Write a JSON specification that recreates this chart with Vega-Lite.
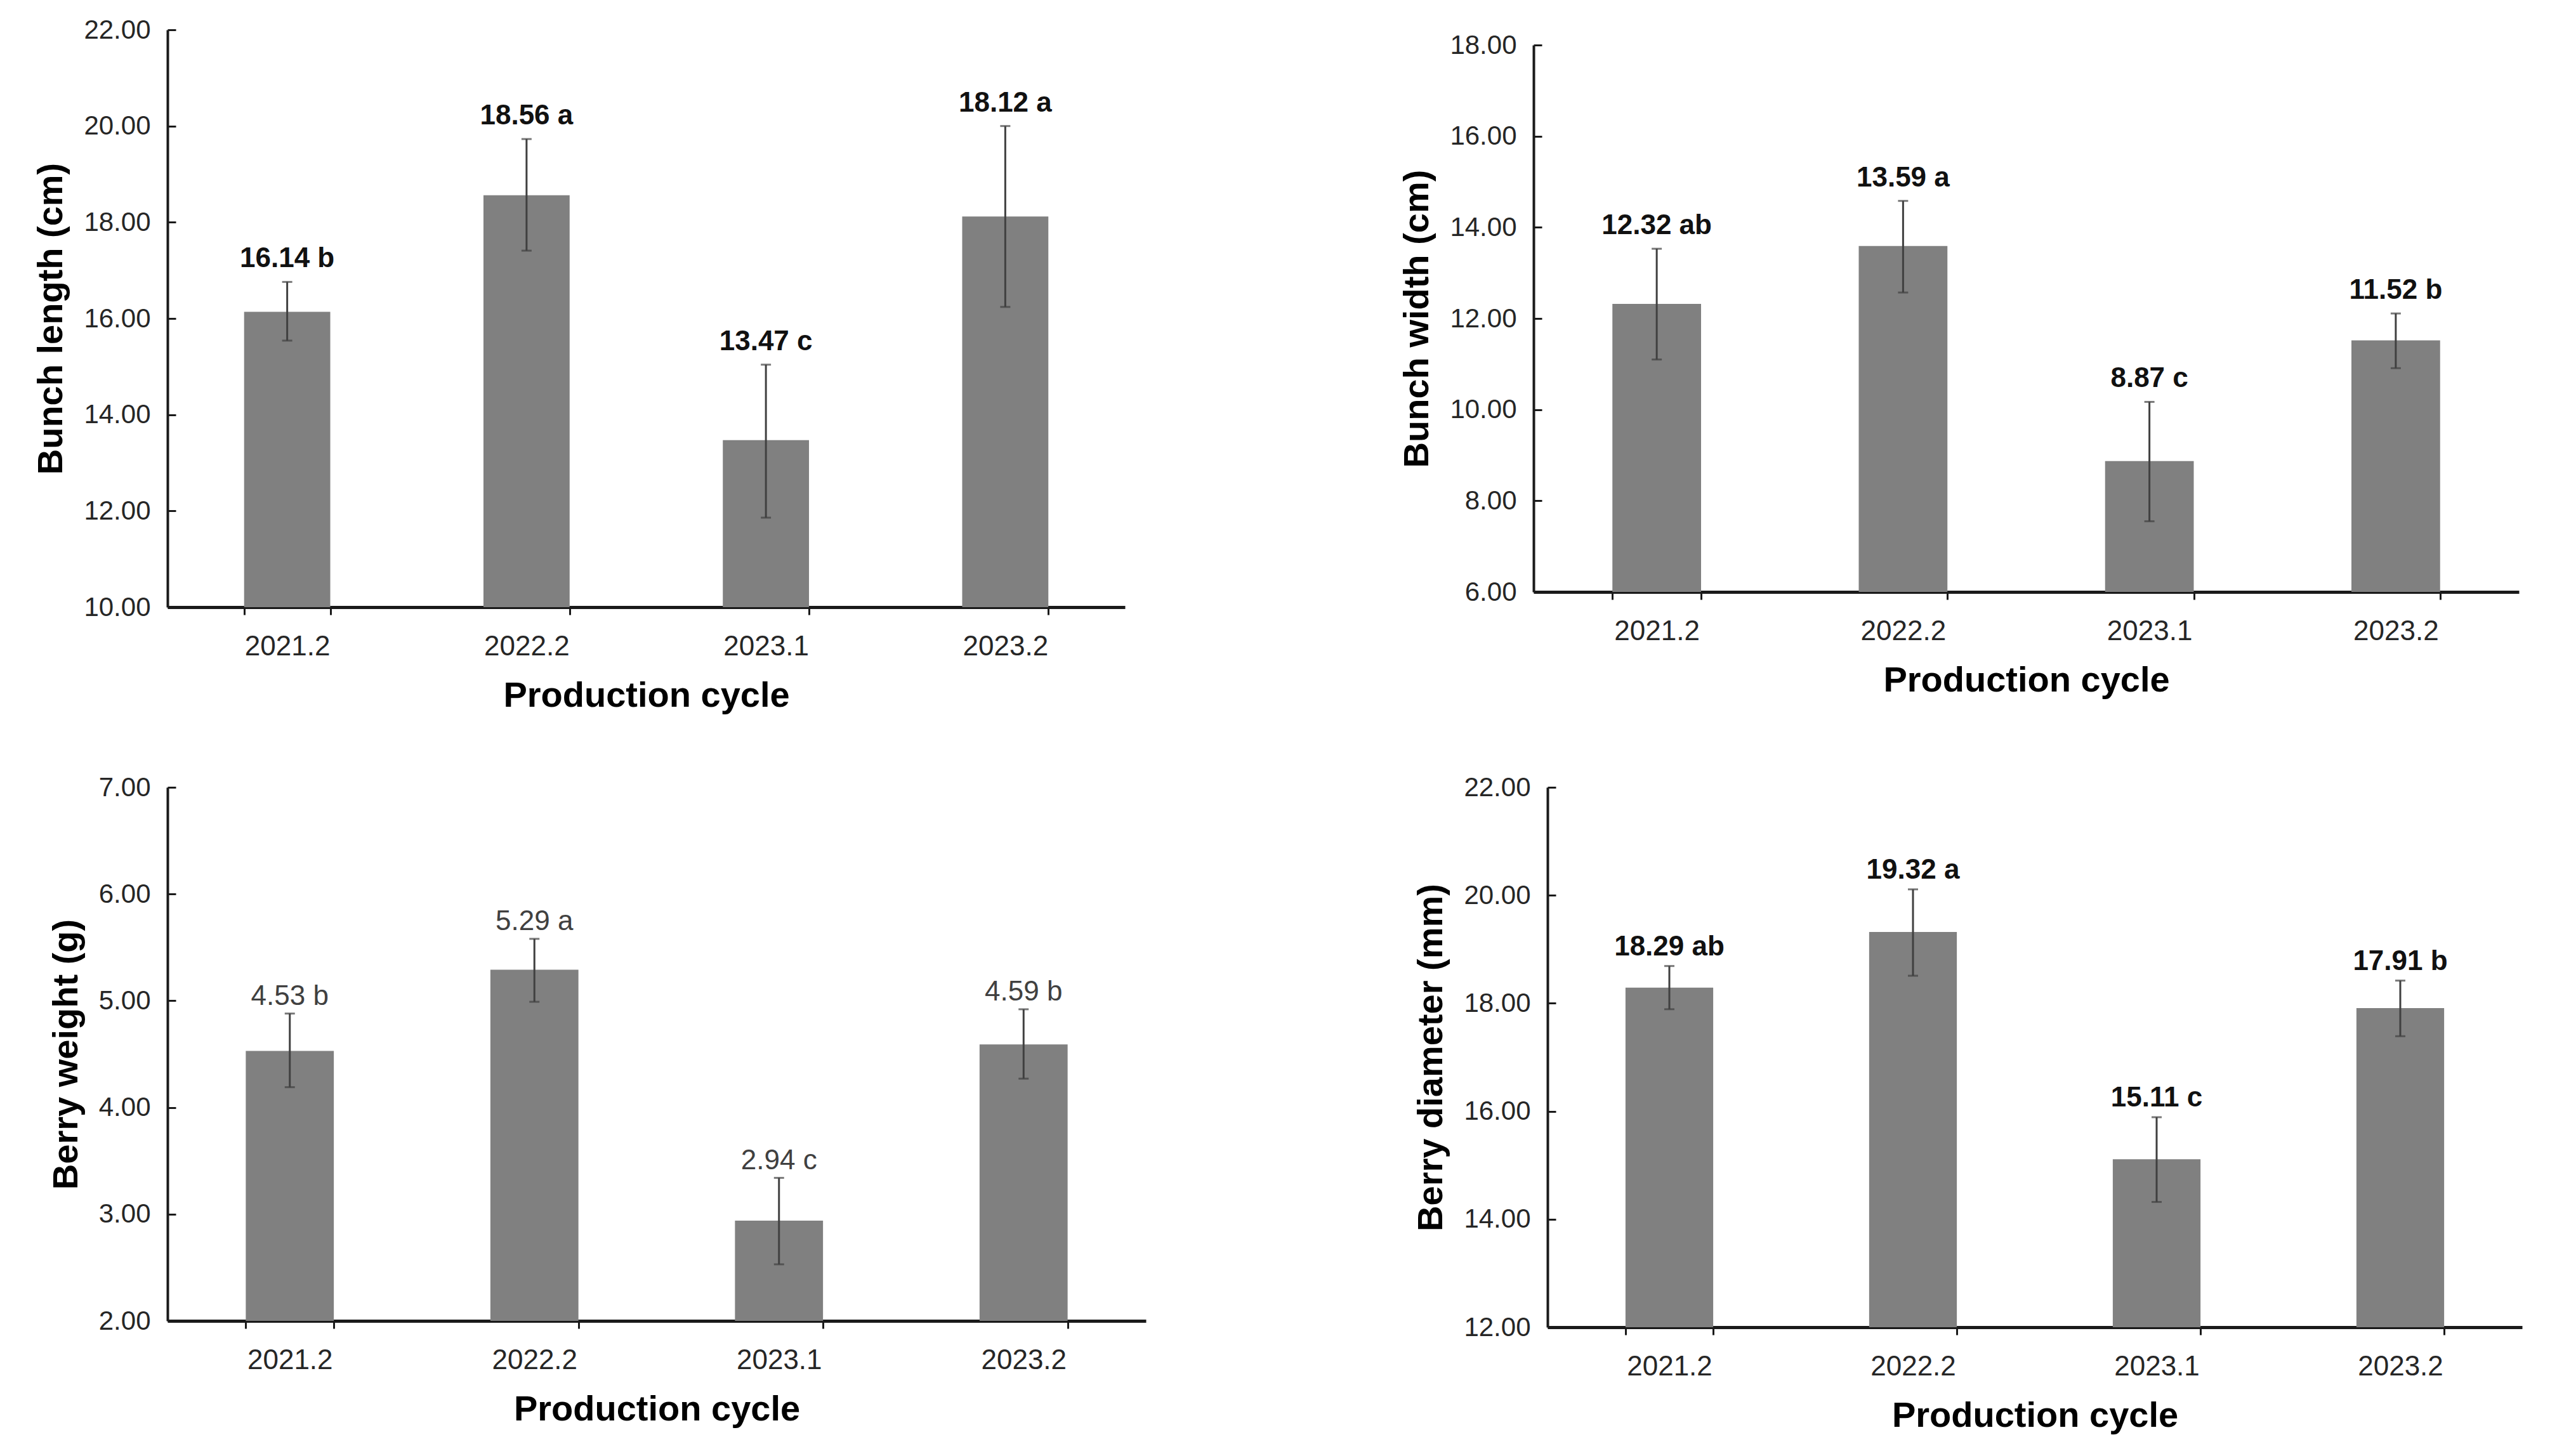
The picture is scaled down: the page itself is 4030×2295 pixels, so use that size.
{
  "$schema": "https://vega.github.io/schema/vega-lite/v6.json",
  "background": "white",
  "padding": {"left": 52, "top": 26, "right": 10, "bottom": 10},
  "datasets": {
    "bl": [
      {"cycle": "2021.2", "mean": 16.14, "lo": 15.54, "hi": 16.76, "label": "16.14 b"},
      {"cycle": "2022.2", "mean": 18.56, "lo": 17.41, "hi": 19.73, "label": "18.56 a"},
      {"cycle": "2023.1", "mean": 13.47, "lo": 11.86, "hi": 15.04, "label": "13.47 c"},
      {"cycle": "2023.2", "mean": 18.12, "lo": 16.24, "hi": 20.0, "label": "18.12 a"}
    ],
    "bw": [
      {"cycle": "2021.2", "mean": 12.32, "lo": 11.1, "hi": 13.53, "label": "12.32 ab"},
      {"cycle": "2022.2", "mean": 13.59, "lo": 12.57, "hi": 14.58, "label": "13.59 a"},
      {"cycle": "2023.1", "mean": 8.87, "lo": 7.55, "hi": 10.17, "label": "8.87 c"},
      {"cycle": "2023.2", "mean": 11.52, "lo": 10.91, "hi": 12.11, "label": "11.52 b"}
    ],
    "bwt": [
      {"cycle": "2021.2", "mean": 4.53, "lo": 4.19, "hi": 4.88, "label": "4.53 b"},
      {"cycle": "2022.2", "mean": 5.29, "lo": 4.99, "hi": 5.58, "label": "5.29 a"},
      {"cycle": "2023.1", "mean": 2.94, "lo": 2.53, "hi": 3.34, "label": "2.94 c"},
      {"cycle": "2023.2", "mean": 4.59, "lo": 4.27, "hi": 4.92, "label": "4.59 b"}
    ],
    "bd": [
      {"cycle": "2021.2", "mean": 18.29, "lo": 17.89, "hi": 18.69, "label": "18.29 ab"},
      {"cycle": "2022.2", "mean": 19.32, "lo": 18.51, "hi": 20.11, "label": "19.32 a"},
      {"cycle": "2023.1", "mean": 15.11, "lo": 14.32, "hi": 15.89, "label": "15.11 c"},
      {"cycle": "2023.2", "mean": 17.91, "lo": 17.39, "hi": 18.42, "label": "17.91 b"}
    ]
  },
  "config": {
    "view": {"stroke": null},
    "font": "Liberation Sans",
    "axis": {"grid": false, "labelFont": "Liberation Sans", "titleFont": "Liberation Sans", "titleFontWeight": "bold", "titleColor": "#000000", "labelColor": "#262626", "domainColor": "#1a1a1a", "tickColor": "#1a1a1a"},
    "axisY": {"domainWidth": 4, "tickWidth": 3, "tickSize": -13, "labelPadding": 40, "labelFontSize": 42, "titleFontSize": 56, "titlePadding": 22},
    "axisX": {"domainWidth": 5, "tickWidth": 3, "tickSize": 12, "tickBand": "extent", "labelAngle": 0, "labelPadding": 28, "labelFontSize": 44, "titleFontSize": 56, "titlePadding": 28},
    "bar": {"color": "#808080"},
    "rule": {"color": "#404040", "strokeWidth": 3},
    "tick": {"color": "#404040", "thickness": 3, "size": 16},
    "text": {"fontSize": 44, "font": "Liberation Sans", "baseline": "alphabetic", "align": "center"}
  },
  "spacing": 96,
  "vconcat": [
    {
      "spacing": 432,
      "center": true,
      "hconcat": [
        {
          "data": {"name": "bl"},
          "width": 1509,
          "height": 910,
          "encoding": {"x": {"field": "cycle", "type": "nominal", "sort": null, "title": "Production cycle", "scale": {"paddingInner": 0.64, "paddingOuter": 0.32}}},
          "layer": [
            {"mark": {"type": "bar"}, "encoding": {"y": {"field": "mean", "type": "quantitative", "title": "Bunch length (cm)", "scale": {"domain": [10, 22], "nice": false, "zero": false}, "axis": {"values": [10, 12, 14, 16, 18, 20, 22], "format": ".2f"}}, "y2": {"datum": 10}}},
            {"mark": {"type": "rule"}, "encoding": {"y": {"field": "lo", "type": "quantitative", "title": "Bunch length (cm)"}, "y2": {"field": "hi"}}},
            {"mark": {"type": "tick"}, "encoding": {"y": {"field": "lo", "type": "quantitative", "title": "Bunch length (cm)"}}},
            {"mark": {"type": "tick"}, "encoding": {"y": {"field": "hi", "type": "quantitative", "title": "Bunch length (cm)"}}},
            {"mark": {"type": "text", "dy": -23, "fontWeight": "bold", "color": "#111111"}, "encoding": {"y": {"field": "hi", "type": "quantitative", "title": "Bunch length (cm)"}, "text": {"field": "label"}}}
          ]
        },
        {
          "data": {"name": "bw"},
          "width": 1553,
          "height": 862,
          "encoding": {"x": {"field": "cycle", "type": "nominal", "sort": null, "title": "Production cycle", "scale": {"paddingInner": 0.64, "paddingOuter": 0.32}}},
          "layer": [
            {"mark": {"type": "bar"}, "encoding": {"y": {"field": "mean", "type": "quantitative", "title": "Bunch width (cm)", "scale": {"domain": [6, 18], "nice": false, "zero": false}, "axis": {"values": [6, 8, 10, 12, 14, 16, 18], "format": ".2f"}}, "y2": {"datum": 6}}},
            {"mark": {"type": "rule"}, "encoding": {"y": {"field": "lo", "type": "quantitative", "title": "Bunch width (cm)"}, "y2": {"field": "hi"}}},
            {"mark": {"type": "tick"}, "encoding": {"y": {"field": "lo", "type": "quantitative", "title": "Bunch width (cm)"}}},
            {"mark": {"type": "tick"}, "encoding": {"y": {"field": "hi", "type": "quantitative", "title": "Bunch width (cm)"}}},
            {"mark": {"type": "text", "dy": -23, "fontWeight": "bold", "color": "#111111"}, "encoding": {"y": {"field": "hi", "type": "quantitative", "title": "Bunch width (cm)"}, "text": {"field": "label"}}}
          ]
        }
      ]
    },
    {
      "spacing": 421,
      "hconcat": [
        {
          "data": {"name": "bwt"},
          "width": 1542,
          "height": 841,
          "encoding": {"x": {"field": "cycle", "type": "nominal", "sort": null, "title": "Production cycle", "scale": {"paddingInner": 0.64, "paddingOuter": 0.32}}},
          "layer": [
            {"mark": {"type": "bar"}, "encoding": {"y": {"field": "mean", "type": "quantitative", "title": "Berry weight (g)", "scale": {"domain": [2, 7], "nice": false, "zero": false}, "axis": {"values": [2, 3, 4, 5, 6, 7], "format": ".2f"}}, "y2": {"datum": 2}}},
            {"mark": {"type": "rule"}, "encoding": {"y": {"field": "lo", "type": "quantitative", "title": "Berry weight (g)"}, "y2": {"field": "hi"}}},
            {"mark": {"type": "tick"}, "encoding": {"y": {"field": "lo", "type": "quantitative", "title": "Berry weight (g)"}}},
            {"mark": {"type": "tick"}, "encoding": {"y": {"field": "hi", "type": "quantitative", "title": "Berry weight (g)"}}},
            {"mark": {"type": "text", "dy": -14, "fontWeight": "normal", "color": "#404040"}, "encoding": {"y": {"field": "hi", "type": "quantitative", "title": "Berry weight (g)"}, "text": {"field": "label"}}}
          ]
        },
        {
          "data": {"name": "bd"},
          "width": 1536,
          "height": 851,
          "encoding": {"x": {"field": "cycle", "type": "nominal", "sort": null, "title": "Production cycle", "scale": {"paddingInner": 0.64, "paddingOuter": 0.32}}},
          "layer": [
            {"mark": {"type": "bar"}, "encoding": {"y": {"field": "mean", "type": "quantitative", "title": "Berry diameter (mm)", "scale": {"domain": [12, 22], "nice": false, "zero": false}, "axis": {"values": [12, 14, 16, 18, 20, 22], "format": ".2f"}}, "y2": {"datum": 12}}},
            {"mark": {"type": "rule"}, "encoding": {"y": {"field": "lo", "type": "quantitative", "title": "Berry diameter (mm)"}, "y2": {"field": "hi"}}},
            {"mark": {"type": "tick"}, "encoding": {"y": {"field": "lo", "type": "quantitative", "title": "Berry diameter (mm)"}}},
            {"mark": {"type": "tick"}, "encoding": {"y": {"field": "hi", "type": "quantitative", "title": "Berry diameter (mm)"}}},
            {"mark": {"type": "text", "dy": -17, "fontWeight": "bold", "color": "#111111"}, "encoding": {"y": {"field": "hi", "type": "quantitative", "title": "Berry diameter (mm)"}, "text": {"field": "label"}}}
          ]
        }
      ]
    }
  ]
}
